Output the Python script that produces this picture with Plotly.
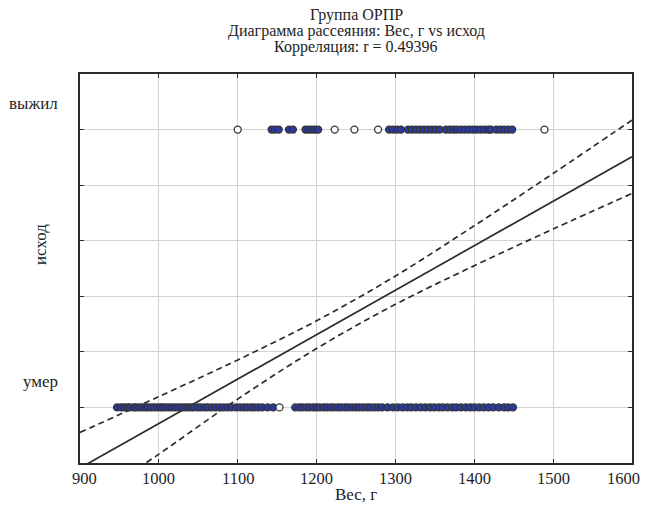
import plotly.graph_objects as go

# ---- data ----
outcome_labels = ["умер", "выжил"]
outcome_values = [0, 1]

died_weights = [947, 952, 956, 960, 963, 968, 971, 975, 979, 983, 986, 990, 994, 998,
                1002, 1005, 1009, 1013, 1017, 1021, 1025, 1029, 1033, 1037, 1041, 1044,
                1049, 1053, 1058, 1062, 1067, 1072, 1077, 1082, 1087, 1092, 1098, 1103,
                1108, 1112, 1117, 1121, 1126, 1131, 1138, 1145, 1153,
                1173, 1178, 1182, 1187, 1191, 1196, 1200, 1204, 1209, 1213, 1218, 1222,
                1227, 1231, 1236, 1240, 1245, 1250, 1254, 1259, 1264, 1268, 1273, 1278,
                1283, 1290, 1297, 1303, 1309, 1315, 1320, 1326, 1332, 1338, 1344, 1349,
                1355, 1360, 1366, 1372, 1377, 1383, 1389, 1395, 1400, 1406, 1412, 1418,
                1424, 1431, 1438, 1443, 1449]

survived_weights = [1100, 1143, 1147, 1152, 1165, 1170, 1186, 1190, 1194, 1198, 1202,
                    1223, 1248, 1278, 1292, 1297, 1302, 1307, 1316, 1321, 1326, 1331,
                    1336, 1341, 1346, 1351, 1356, 1364, 1369, 1374, 1378, 1383, 1388,
                    1393, 1398, 1403, 1408, 1413, 1418, 1421, 1428, 1433, 1438, 1443,
                    1448, 1489]

# regression line and 95% confidence band, read at the x ticks
fit_x = [900, 1000, 1100, 1200, 1300, 1400, 1500, 1600]
fit_y = [-0.218, -0.058, 0.102, 0.262, 0.422, 0.582, 0.742, 0.902]
ci_upper = [-0.090, 0.039, 0.171, 0.312, 0.473, 0.654, 0.842, 1.034]
ci_lower = [-0.360, -0.168, 0.030, 0.212, 0.371, 0.510, 0.642, 0.770]

x_ticks = [900, 1000, 1100, 1200, 1300, 1400, 1500, 1600]
x_tick_labels = ["900", "1000", "1100", "1200", "1300", "1400", "1500", "1600"]
y_grid = [-0.2, 0.0, 0.2, 0.4, 0.6, 0.8, 1.0, 1.2]

title_lines = ["Группа ОРПР", "Диаграмма рассеяния: Вес, г vs исход",
               "Корреляция: r = 0.49396"]
x_title = "Вес, г"
y_title = "исход"

FONT = "Liberation Serif"
INK = "#2f2a2a"
TXT = "#1e1e1e"
FS = 17
FS_TITLE = 16

# body margin is removed below, so the figure fills the 648x511 window exactly
OFF = 0
W, H = 648 - OFF, 511 - OFF
# plot area borders in window pixels (from the reference)
XL, XR, YT, YB = 80, 632, 74, 463
L, R, T, B = XL - OFF, W - (XR - OFF), YT - OFF, H - (YB - OFF)
PH = YB - YT
PW = XR - XL


def py(pixel_y):
    return (YB - pixel_y) / PH


def px(pixel_x):
    return (pixel_x - XL) / PW


def fills(ws):
    out = []
    for i, w in enumerate(ws):
        near = any(abs(w - v) < 8 for j, v in enumerate(ws) if j != i)
        out.append("#2c3a9c" if near else "white")
    return out


fig = go.Figure()

fig.add_trace(go.Scatter(x=fit_x, y=ci_upper, mode="lines", line_shape="spline",
                         line=dict(color=INK, width=1.7, dash="6px,4px"),
                         hoverinfo="skip", showlegend=False))
fig.add_trace(go.Scatter(x=fit_x, y=ci_lower, mode="lines", line_shape="spline",
                         line=dict(color=INK, width=1.7, dash="6px,4px"),
                         hoverinfo="skip", showlegend=False))
fig.add_trace(go.Scatter(x=fit_x, y=fit_y, mode="lines",
                         line=dict(color=INK, width=1.7),
                         hoverinfo="skip", showlegend=False))

for ws, val in [(died_weights, outcome_values[0]), (survived_weights, outcome_values[1])]:
    fig.add_trace(go.Scatter(
        x=ws, y=[val] * len(ws), mode="markers", showlegend=False,
        marker=dict(symbol="circle", size=7, color=fills(ws),
                    line=dict(color="#333333", width=1.3))))

# title, three tightly spaced lines
for line, pyy in zip(title_lines, [15, 31, 47]):
    fig.add_annotation(text=line, xref="paper", yref="paper", x=px(356), y=py(pyy),
                       xanchor="center", yanchor="middle", showarrow=False,
                       borderpad=0,
                       font=dict(family=FONT, size=FS_TITLE, color=TXT))

# category labels (drawn above their rows, as in the original)
for lab, val in zip(outcome_labels, outcome_values):
    fig.add_annotation(text=lab, xref="paper", yref="y", x=px(60), y=val + 0.095,
                       xanchor="right", yanchor="middle", showarrow=False,
                       font=dict(family=FONT, size=FS, color=TXT))

fig.add_annotation(text=y_title, xref="paper", yref="paper", x=px(40), y=py(245),
                   xanchor="center", yanchor="middle", textangle=-90, showarrow=False,
                   font=dict(family=FONT, size=FS, color=TXT))

# x tick labels (end labels kept inside, as in the original)
shifts = {900: 4, 1600: -9}
for xv, lab in zip(x_ticks, x_tick_labels):
    fig.add_annotation(text=lab, xref="x", yref="paper", x=xv, y=py(478),
                       xshift=shifts.get(xv, 0),
                       xanchor="center", yanchor="middle", showarrow=False,
                       font=dict(family=FONT, size=FS - 0.5, color=TXT))

fig.add_annotation(text=x_title, xref="paper", yref="paper", x=px(356), y=py(495),
                   xanchor="center", yanchor="middle", showarrow=False,
                   font=dict(family=FONT, size=FS, color=TXT))

fig.update_layout(
    width=W, height=H,
    margin=dict(l=L, r=R, t=T, b=B),
    paper_bgcolor="white", plot_bgcolor="white",
    hovermode=False,
    xaxis=dict(range=[900, 1600], tickvals=x_ticks, showticklabels=False,
               showgrid=True, gridcolor="#d2d2d2", gridwidth=1, zeroline=False,
               showline=True, linecolor=INK, linewidth=1.6, mirror="ticks",
               ticks="inside", ticklen=4, tickcolor=INK),
    yaxis=dict(range=[-0.2, 1.2], tickvals=y_grid, showticklabels=False,
               showgrid=True, gridcolor="#d2d2d2", gridwidth=1, zeroline=False,
               showline=True, linecolor=INK, linewidth=1.6, mirror="ticks",
               ticks="inside", ticklen=4, tickcolor=INK),
)

fig.write_html("out.html",
               config={"displayModeBar": False, "staticPlot": True},
               post_script="document.body.style.margin='0';"
                           "document.body.style.overflow='hidden';")
